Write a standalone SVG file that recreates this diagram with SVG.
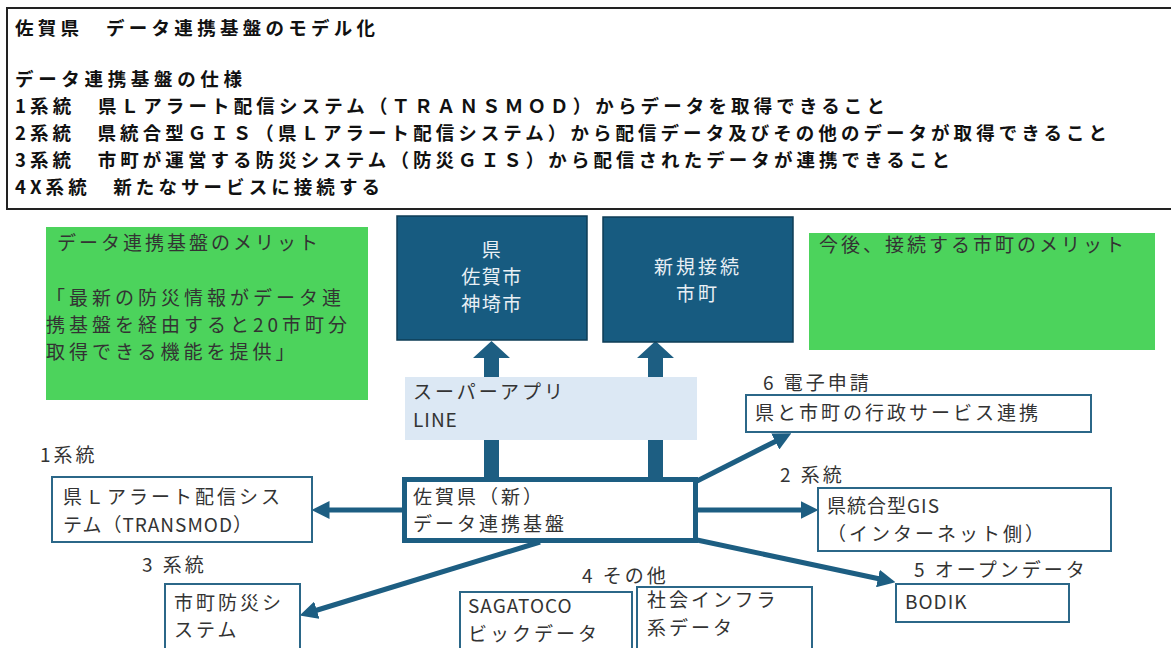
<svg xmlns="http://www.w3.org/2000/svg" width="1171" height="648" viewBox="0 0 1171 648">
<style>
.t{font-family:"Noto Sans CJK JP","Noto Sans",sans-serif;font-size:19px;fill:#333;letter-spacing:3px}
.b{font-family:"Noto Sans CJK JP","Noto Sans",sans-serif;font-size:18.5px;font-weight:bold;fill:#111}
.w{font-family:"Noto Sans CJK JP","Noto Sans",sans-serif;font-size:19px;fill:#e9f0f5;letter-spacing:1.5px}
.box{fill:#fff;stroke:#2b6788;stroke-width:2}
.green{fill:#4cd35c}
.dark{fill:#175b80;stroke:#0e3c56;stroke-width:1.5}
.con{stroke:#1d5e82;stroke-width:5;fill:none}
</style>
<defs>
<marker id="ah" markerUnits="userSpaceOnUse" markerWidth="18" markerHeight="18" refX="4" refY="8" orient="auto" viewBox="0 0 16 16">
<path d="M0,0 L16,8 L0,16 z" fill="#1d5e82"/>
</marker>
</defs>

<g id="header">
<rect x="7" y="8" width="1180" height="201" fill="#fff" stroke="#222" stroke-width="2"/>
<text class="b" x="15" y="35" textLength="360">佐賀県　データ連携基盤のモデル化</text>
<text class="b" x="15" y="86" textLength="227">データ連携基盤の仕様</text>
<text class="b" x="15" y="113" textLength="870">1系統　県Ｌアラート配信システム（ＴＲＡＮＳＭＯＤ）からデータを取得できること</text>
<text class="b" x="15" y="140" textLength="1092">2系統　県統合型ＧＩＳ（県Ｌアラート配信システム）から配信データ及びその他のデータが取得できること</text>
<text class="b" x="15" y="167" textLength="935">3系統　市町が運営する防災システム（防災ＧＩＳ）から配信されたデータが連携できること</text>
<text class="b" x="15" y="194" textLength="365">4X系統　新たなサービスに接続する</text>
</g>

<g id="merit1">
<rect class="green" x="46" y="227" width="322" height="173"/>
<text class="t" x="57" y="250">データ連携基盤のメリット</text>
<text class="t" x="46" y="305" style="letter-spacing:4px">「最新の防災情報がデータ連</text>
<text class="t" x="46" y="332" style="letter-spacing:4px">携基盤を経由すると20市町分</text>
<text class="t" x="46" y="359" style="letter-spacing:4px">取得できる機能を提供」</text>
</g>

<g id="merit2">
<rect class="green" x="809" y="233" width="346" height="117"/>
<text class="t" x="819" y="252">今後、接続する市町のメリット</text>
</g>

<g id="connectors">
<polygon fill="#1d5e82" points="484,479 484,358 473,358 491.5,341 510,358 499,358 499,479"/>
<polygon fill="#1d5e82" points="648,479 648,358 637,358 655.5,341 674,358 663,358 663,479"/>
<line class="con" x1="402" y1="510" x2="325" y2="510" marker-end="url(#ah)"/>
<line class="con" x1="697" y1="510" x2="805" y2="510" marker-end="url(#ah)"/>
<line class="con" x1="697" y1="481" x2="779.3" y2="439.4" marker-end="url(#ah)"/>
<line class="con" x1="697" y1="540" x2="882.3" y2="579.5" marker-end="url(#ah)"/>
<line class="con" x1="540" y1="542" x2="312.5" y2="611.5" marker-end="url(#ah)"/>
</g>

<g id="pref">
<rect class="dark" x="397" y="216" width="190" height="124"/>
<text class="w" x="492" y="257" text-anchor="middle">県</text>
<text class="w" x="492" y="284" text-anchor="middle">佐賀市</text>
<text class="w" x="492" y="311" text-anchor="middle">神埼市</text>
</g>

<g id="newcity">
<rect class="dark" x="603" y="217" width="190" height="125"/>
<text class="w" x="698" y="274" text-anchor="middle" style="letter-spacing:3px">新規接続</text>
<text class="w" x="698" y="301" text-anchor="middle" style="letter-spacing:3px">市町</text>
</g>

<g id="superapp">
<rect x="405" y="377" width="292" height="63" fill="#dce8f4"/>
<text class="t" x="413" y="399">スーパーアプリ</text>
<text class="t" x="413" y="427" style="letter-spacing:1px">LINE</text>
</g>

<g id="hub">
<rect x="404.5" y="479.5" width="291" height="61" fill="#fff" stroke="#1d5e82" stroke-width="5"/>
<text class="t" x="413" y="504">佐賀県（新）</text>
<text class="t" x="413" y="531">データ連携基盤</text>
</g>

<g id="transmod">
<text class="t" x="40" y="462">1系統</text>
<rect class="box" x="52" y="477" width="260" height="65"/>
<text class="t" x="63" y="504">県Ｌアラート配信シス</text>
<text class="t" x="63" y="532" style="letter-spacing:1px">テム（TRANSMOD）</text>
</g>

<g id="bousai">
<text class="t" x="142" y="572">3 系統</text>
<rect class="box" x="165" y="584" width="135" height="80"/>
<text class="t" x="174" y="610">市町防災シ</text>
<text class="t" x="174" y="637">ステム</text>
</g>

<g id="denshi">
<text class="t" x="763" y="390">6 電子申請</text>
<rect class="box" x="746" y="395" width="345" height="37"/>
<text class="t" x="755" y="420">県と市町の行政サービス連携</text>
</g>

<g id="gis">
<text class="t" x="780" y="482">2 系統</text>
<rect class="box" x="818" y="488" width="293" height="63"/>
<text class="t" x="827" y="513" style="letter-spacing:1px">県統合型GIS</text>
<text class="t" x="827" y="541">（インターネット側）</text>
</g>

<g id="bodik">
<text class="t" x="914" y="577">5 オープンデータ</text>
<rect class="box" x="896" y="584" width="173" height="38"/>
<text class="t" x="905" y="609" style="letter-spacing:1px">BODIK</text>
</g>

<g id="other">
<text class="t" x="582" y="583">4 その他</text>
<rect class="box" x="460" y="592" width="172" height="70"/>
<text class="t" x="468" y="613" style="letter-spacing:1px">SAGATOCO</text>
<text class="t" x="468" y="641">ビックデータ</text>
<rect class="box" x="637" y="587" width="175" height="75"/>
<text class="t" x="647" y="607">社会インフラ</text>
<text class="t" x="647" y="635">系データ</text>
</g>
</svg>
